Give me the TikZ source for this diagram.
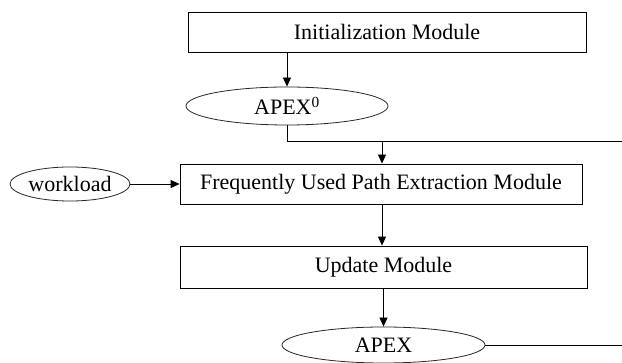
\documentclass[tikz,border=0pt]{standalone}
\usepackage{fontspec}
\setmainfont{Liberation Serif}
\usepackage{tikz}
\usetikzlibrary{shapes.geometric, arrows.meta, positioning, calc}
\tikzset{
    % Node styles
    modulebox/.style={
        rectangle,
        draw=black,
        line width=0.8pt,
        minimum height=40pt,
        text centered,
        font=\fontsize{22}{25}\selectfont
    },
    databox/.style={
        ellipse,
        draw=black!85,
        line width=0.8pt,
        inner sep=0pt,
        text centered,
        font=\fontsize{22}{25}\selectfont
    },
    % Arrow styles
    myarrow/.style={
        -{Triangle[length=9pt,width=8pt]},
        line width=0.8pt,
        black
    },
    plainline/.style={
        line width=0.8pt,
        black
    }
}
\begin{document}
\begin{tikzpicture}[x=1pt,y=-1pt]
    \useasboundingbox (0,0) rectangle (622,363);

    % Modules
    \node[modulebox,minimum width=398pt] (init) at (387,32) {Initialization Module};
    \node[modulebox,minimum width=402pt] (fupe) at (381,184) {Frequently Used Path Extraction Module};
    \node[modulebox,minimum width=407pt,minimum height=42pt] (update) at (383.5,267) {Update Module};

    % Data
    \node[databox,minimum width=202pt,minimum height=38pt] (apex0) at (287,106) {APEX\textsuperscript{0}};
    \node[databox,minimum width=120pt,minimum height=34pt] (work) at (70,184) {workload};
    \node[databox,minimum width=203pt,minimum height=36pt] (apex) at (383.5,345) {APEX};

    % Loop ends
    \coordinate (merge) at (382,141);
    \coordinate (loopin) at (622,141);
    \coordinate (loopout) at (622,345);

    % Arrows
    \draw[myarrow] (init.south -| apex0.north) -- (apex0.north);
    \draw[plainline] (apex0.south) |- (loopin);
    \draw[myarrow] (merge) -- (merge |- fupe.north);
    \draw[myarrow] (work.east) -- (fupe.west);
    \draw[myarrow] (merge |- fupe.south) -- (merge |- update.north);
    \draw[myarrow] (update.south) -- (apex.north);
    \draw[plainline] (apex.east) -- (loopout);
\end{tikzpicture}
\end{document}
